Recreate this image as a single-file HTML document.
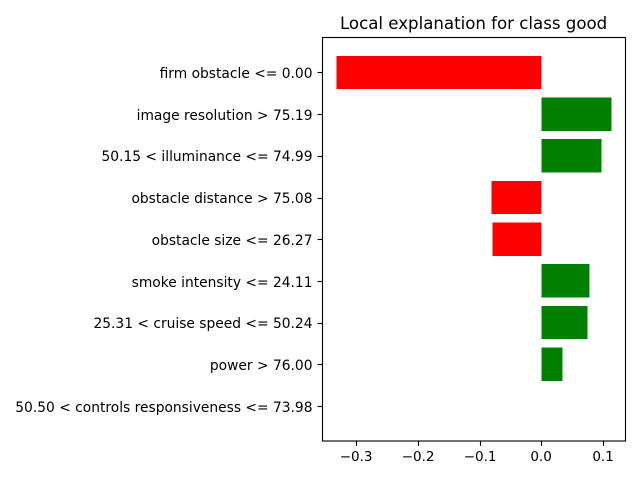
<!DOCTYPE html>
<html>
<head>
<meta charset="utf-8">
<title>Local explanation for class good</title>
<style>
html,body{margin:0;padding:0;background:#fff;}
svg{display:block;}
text{font-family:"DejaVu Sans",sans-serif;fill:#000;}
</style>
</head>
<body>
<svg id="chart" xmlns="http://www.w3.org/2000/svg" width="640" height="480" viewBox="0 0 640 480">
<rect x="0" y="0" width="640" height="480" fill="#ffffff"/>
<text x="473.6" y="29" text-anchor="middle" font-size="16.62">Local explanation for class good</text>
<g id="bars" shape-rendering="crispEdges"></g>
<g id="y-axis"></g>
<g id="x-axis"></g>
<rect x="322.5" y="37.5" width="303" height="403.5" fill="none" stroke="#000" stroke-width="1.11"/>
</svg>
<script>
var categories = ["firm obstacle <= 0.00","image resolution > 75.19","50.15 < illuminance <= 74.99","obstacle distance > 75.08","obstacle size <= 26.27","smoke intensity <= 24.11","25.31 < cruise speed <= 50.24","power > 76.00","50.50 < controls responsiveness <= 73.98"];
var weights = [-0.3324,0.1135,0.0973,-0.081,-0.0795,0.0778,0.0746,0.034,0.0];
var xTicks = [-0.3,-0.2,-0.1,0.0,0.1];
var xTickLabels = ["\u22120.3","\u22120.2","\u22120.1","0.0","0.1"];

var NS = "http://www.w3.org/2000/svg";
function xScale(v){ return 541.3 + v * 616.7; }
function yScale(i){ return 72.48 + i * 41.68; }
var bandHeight = 33.34;

function make(tag, attrs, parent){
  var el = document.createElementNS(NS, tag);
  for (var k in attrs){ el.setAttribute(k, attrs[k]); }
  parent.appendChild(el);
  return el;
}

var barsG = document.getElementById("bars");
var yG = document.getElementById("y-axis");
var xG = document.getElementById("x-axis");

categories.forEach(function(cat, i){
  var v = weights[i];
  var x0 = xScale(Math.min(0, v));
  var x1 = xScale(Math.max(0, v));
  var cy = yScale(i);
  var bar = make("rect", {x: x0, y: cy - bandHeight / 2, width: x1 - x0, height: bandHeight, fill: v > 0 ? "#008000" : "#ff0000"}, barsG);
  
  

  var tickY = Math.round(cy) + 0.5;
  var tick = make("line", {x1: 317.6, x2: 322.5, y1: tickY, y2: tickY, stroke: "#000", "stroke-width": 1.11}, yG);
  
  

  var label = make("text", {x: 312.5, y: Math.round(cy + 5.65), "text-anchor": "end", "font-size": 13.82}, yG);
  label.textContent = cat;
  
  
});

xTicks.forEach(function(t, i){
  var x = Math.round(xScale(t)) + 0.5;
  var tick = make("line", {x1: x, x2: x, y1: 441, y2: 445.9, stroke: "#000", "stroke-width": 1.11}, xG);
  
  

  var label = make("text", {x: x - 0.4, y: 461, "text-anchor": "middle", "font-size": 13.5}, xG);
  label.textContent = xTickLabels[i];
  
  
});
</script>
</body>
</html>
